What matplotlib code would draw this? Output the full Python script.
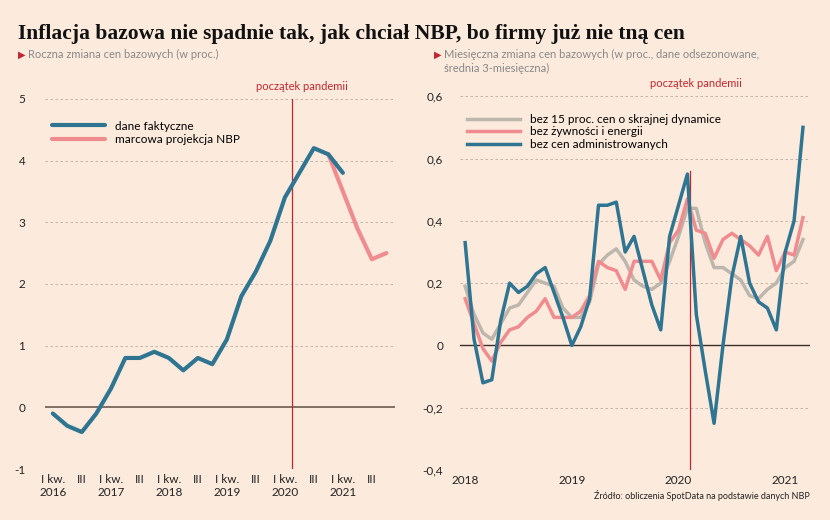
import numpy as np
import matplotlib.pyplot as plt

# lewy wykres: kwartały od I kw. 2016
kwartaly = np.arange(24)
dane_faktyczne = [-0.1, -0.3, -0.4, -0.1, 0.3, 0.8, 0.8, 0.9, 0.8, 0.6, 0.8, 0.7,
                  1.1, 1.8, 2.2, 2.7, 3.4, 3.8, 4.2, 4.1, 3.8]
projekcja_x = [19, 20, 21, 22, 23]
projekcja = [4.1, 3.5, 2.9, 2.4, 2.5]
lata_l = ['2016', '2017', '2018', '2019', '2020', '2021']

# prawy wykres: miesiące od stycznia 2018
bez_15 = [0.19, 0.10, 0.04, 0.02, 0.07, 0.12, 0.13, 0.17, 0.21, 0.20, 0.19, 0.12,
          0.09, 0.09, 0.14, 0.26, 0.29, 0.31, 0.27, 0.21, 0.19, 0.18, 0.20, 0.27,
          0.35, 0.44, 0.44, 0.33, 0.25, 0.25, 0.23, 0.21, 0.16, 0.15, 0.18, 0.20,
          0.25, 0.27, 0.34]
bez_zywnosci = [0.15, 0.07, -0.01, -0.05, 0.01, 0.05, 0.06, 0.09, 0.11, 0.15, 0.09, 0.09,
                0.09, 0.11, 0.16, 0.27, 0.25, 0.24, 0.18, 0.27, 0.27, 0.27, 0.21, 0.33,
                0.37, 0.47, 0.37, 0.36, 0.28, 0.34, 0.36, 0.34, 0.32, 0.29, 0.35, 0.24,
                0.30, 0.29, 0.41]
bez_admin = [0.33, 0.02, -0.12, -0.11, 0.08, 0.20, 0.17, 0.19, 0.23, 0.25, 0.17, 0.09,
             0.00, 0.06, 0.15, 0.45, 0.45, 0.46, 0.30, 0.35, 0.24, 0.13, 0.05, 0.35,
             0.45, 0.55, 0.10, -0.08, -0.25, 0.00, 0.22, 0.35, 0.20, 0.14, 0.12, 0.05,
             0.30, 0.40, 0.70]
miesiace = np.arange(len(bez_admin))
lata_p = ['2018', '2019', '2020', '2021']

tlo = '#fcebdd'
niebieski = '#2f7592'
rozowy = '#f08c8f'
szary = '#bdb6ac'
czerwony = '#c4262e'
font = 'Lato'

fig = plt.figure(figsize=(8.3, 5.2), dpi=100, facecolor=tlo)

fig.text(0.022, 0.925, 'Inflacja bazowa nie spadnie tak, jak chciał NBP, bo firmy już nie tną cen',
         family='Liberation Serif', weight='bold', fontsize=15.5, color='#111111')
fig.text(0.022, 0.895, '\u25B6', color=czerwony, fontsize=7, family='DejaVu Sans', va='center')
fig.text(0.034, 0.895, 'Roczna zmiana cen bazowych (w proc.)', color='#888888',
         fontsize=8, family=font, va='center')
fig.text(0.523, 0.895, '\u25B6', color=czerwony, fontsize=7, family='DejaVu Sans', va='center')
fig.text(0.535, 0.895, 'Miesięczna zmiana cen bazowych (w proc., dane odsezonowane,', color='#888888',
         fontsize=8, family=font, va='center')
fig.text(0.535, 0.868, 'średnia 3-miesięczna)', color='#888888', fontsize=8, family=font, va='center')
fig.text(0.975, 0.04, 'Źródło: obliczenia SpotData na podstawie danych NBP', ha='right',
         fontsize=6.5, family=font, color='#222222')


def styl(ax):
    ax.set_facecolor(tlo)
    for s in ax.spines.values():
        s.set_visible(False)
    ax.tick_params(length=0, labelsize=8.5, labelcolor='#222222')
    for l in ax.get_xticklabels() + ax.get_yticklabels():
        l.set_family(font)


# lewy
ax1 = fig.add_axes([0.054, 0.098, 0.422, 0.712])
ax1.set_xlim(-0.55, 23.6)
ax1.set_ylim(-1, 5)
for y in range(-1, 6):
    if y == 0:
        ax1.axhline(0, color='#6b5a50', lw=1.2, zorder=1)
    else:
        ax1.axhline(y, color='#b8aca2', lw=0.6, ls=(0, (3, 3)), zorder=1)
ax1.axvline(16.5, color=czerwony, lw=0.9, zorder=1)
ax1.text(17.2, 5.15, 'początek pandemii', color=czerwony, fontsize=8, family=font, ha='center')
ax1.plot(projekcja_x, projekcja, color=rozowy, lw=3, solid_capstyle='round', label='marcowa projekcja NBP', zorder=2)
ax1.plot(kwartaly[:len(dane_faktyczne)], dane_faktyczne, color=niebieski, lw=3,
         solid_capstyle='round', label='dane faktyczne', zorder=3)
h, l = ax1.get_legend_handles_labels()
ax1.legend(h[::-1], l[::-1], loc='upper left', bbox_to_anchor=(-0.01, 0.97), frameon=False,
           prop={'family': font, 'size': 8.5}, handlelength=4.5, labelspacing=0.2)
ax1.set_yticks(range(-1, 6))
ax1.set_yticklabels([str(v) for v in range(-1, 6)])
xt = []
xl = []
for i, r in enumerate(lata_l):
    xt += [i * 4, i * 4 + 2]
    xl += ['I kw.\n' + r, 'III\n ']
ax1.set_xticks(xt)
ax1.set_xticklabels(xl)
ax1.tick_params(axis='y', pad=14)
styl(ax1)

# prawy
ax2 = fig.add_axes([0.554, 0.096, 0.422, 0.719])
ax2.set_xlim(-0.6, 38.8)
ax2.set_ylim(-0.4, 0.8)
for y in [-0.4, -0.2, 0.2, 0.4, 0.6, 0.8]:
    ax2.axhline(y, color='#b8aca2', lw=0.6, ls=(0, (3, 3)), zorder=1)
ax2.axhline(0, color='#3a2f2a', lw=1.0, zorder=1)
ax2.axvline(25.3, ymax=0.8, color=czerwony, lw=0.9, zorder=1)
ax2.text(26, 0.83, 'początek pandemii', color=czerwony, fontsize=8, family=font, ha='center')
ax2.plot(miesiace, bez_15, color=szary, lw=2.5, label='bez 15 proc. cen o skrajnej dynamice', zorder=2)
ax2.plot(miesiace, bez_zywnosci, color=rozowy, lw=2.5, label='bez żywności i energii', zorder=3)
ax2.plot(miesiace, bez_admin, color=niebieski, lw=2.5, label='bez cen administrowanych', zorder=4)
ax2.legend(loc='upper left', bbox_to_anchor=(-0.01, 0.98), frameon=False,
           prop={'family': font, 'size': 8.5}, handlelength=4.5, labelspacing=0.1)
ax2.set_yticks([-0.4, -0.2, 0, 0.2, 0.4, 0.6, 0.8])
ax2.set_yticklabels(['-0,4', '-0,2', '0', '0,2', '0,4', '0,6', '0,6'])
ax2.set_xticks([0, 12, 24, 36])
ax2.set_xticklabels(lata_p)
ax2.tick_params(axis='y', pad=12)
styl(ax2)

fig.savefig('out.png', dpi=100, facecolor=tlo)
